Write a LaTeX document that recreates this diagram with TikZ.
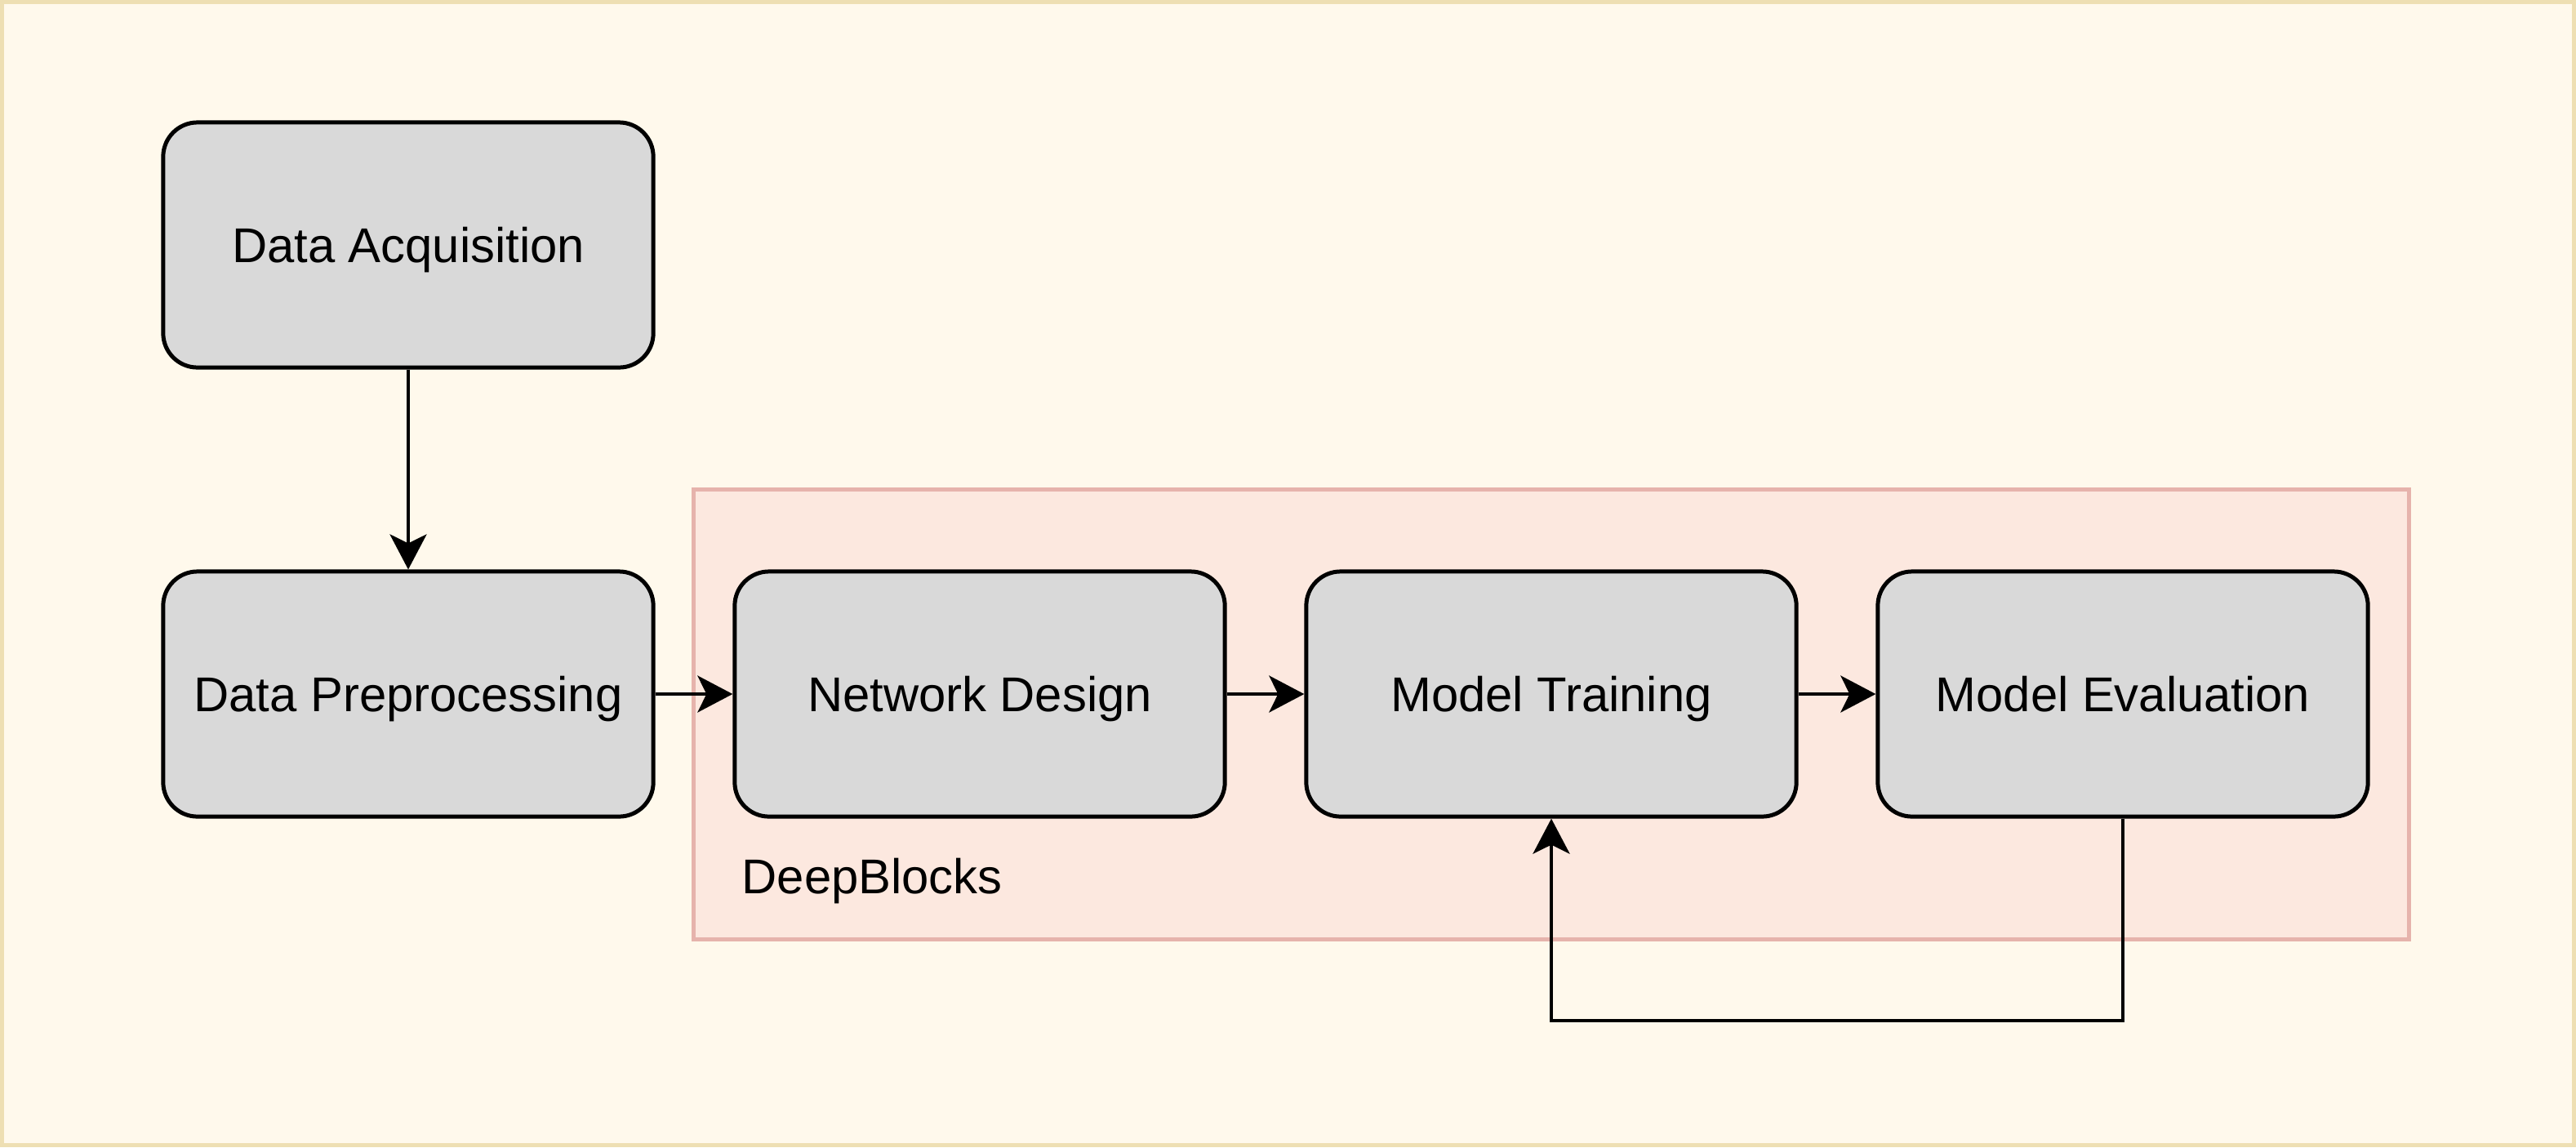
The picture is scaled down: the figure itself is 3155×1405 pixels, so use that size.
\documentclass[tikz,border=0pt]{standalone}
\usepackage{fontspec}
\setmainfont{Liberation Sans}
\usetikzlibrary{arrows.meta}
\definecolor{bgfill}{HTML}{FFF9EC}
\definecolor{bgline}{HTML}{EEDFB3}
\definecolor{grpfill}{HTML}{FCE8DF}
\definecolor{grpline}{HTML}{E6B3AC}
\definecolor{boxfill}{HTML}{D9D9D9}
\begin{document}
\begin{tikzpicture}[x=0.01cm,y=-0.01cm,
  stepbox/.style={draw=black, fill=boxfill, line width=1.42pt, rounded corners=0.42cm,
    minimum width=6cm, minimum height=3cm, inner sep=0pt,
    text height=0.43cm, text depth=0pt,
    font=\fontsize{17}{20}\selectfont},
  grpbox/.style={draw=grpline, fill=grpfill, line width=1.42pt, inner sep=0pt,
    minimum width=21cm, minimum height=5.5cm},
  flow/.style={draw=black, line width=1.2pt,
    -{Stealth[length=0.43cm,width=0.45cm,inset=0.11cm]}},
  lbl/.style={font=\fontsize{17}{20}\selectfont, inner sep=0pt}
]
\useasboundingbox (0,0) rectangle (3155,1405);
\fill[bgfill] (0,0) rectangle (3155,1405);
\draw[bgline, line width=1.42pt] (2.5,2.5) rectangle (3152.5,1402.5);

\node[grpbox] (grp) at (1900,875) {};
\node[lbl, anchor=base west] (grplabel) at (908,1094) {DeepBlocks};

\node[stepbox] (DA) at (500,300) {Data Acquisition};
\node[stepbox] (DP) at (500,850) {Data Preprocessing};
\node[stepbox] (ND) at (1200,850) {Network Design};
\node[stepbox] (MT) at (1900,850) {Model Training};
\node[stepbox] (ME) at (2600,850) {Model Evaluation};
\coordinate (fb) at (2600,1250);

\draw[flow] (DA) -- (DP);
\draw[flow] (DP) -- (ND);
\draw[flow] (ND) -- (MT);
\draw[flow] (MT) -- (ME);
\draw[flow] (ME.south) -- (fb) -| (MT.south);
\end{tikzpicture}
\end{document}
